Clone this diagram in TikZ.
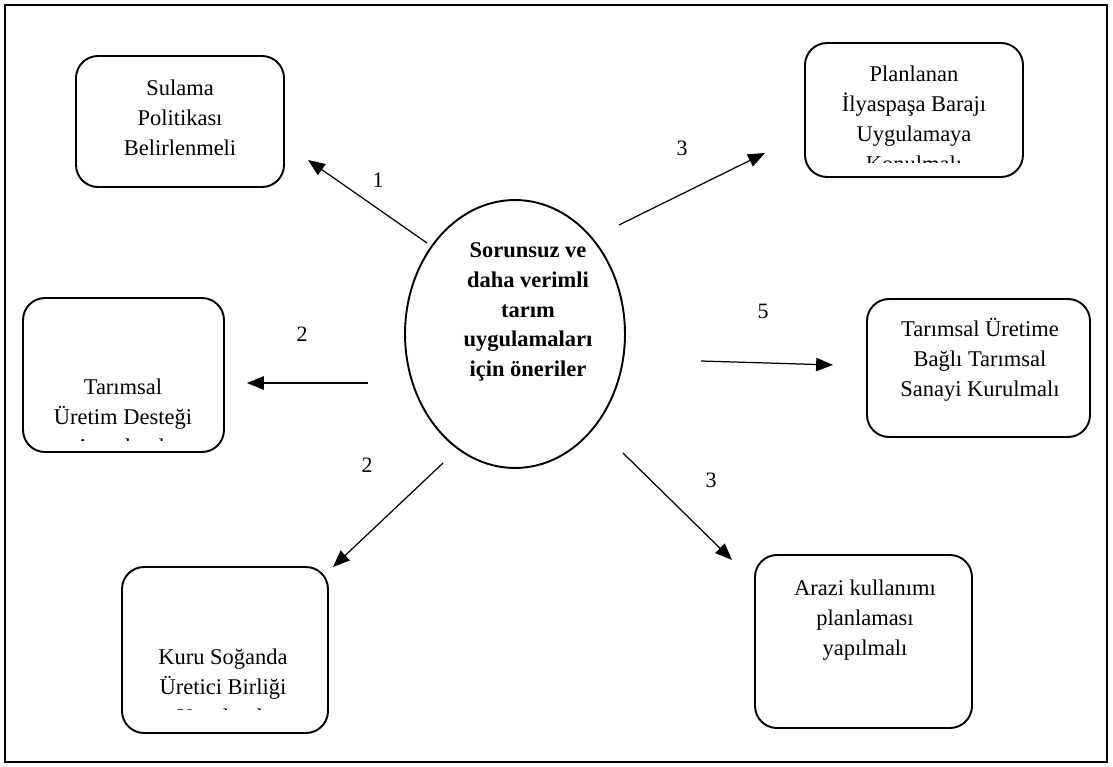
\documentclass[tikz,border=0pt]{standalone}
\usepackage{fontspec}
\setmainfont{Liberation Serif}
\usetikzlibrary{arrows.meta,shapes.geometric}

\begin{document}
\begin{tikzpicture}[x=0.02cm, y=-0.02cm]
    \tikzset{kutu/.style={rectangle, draw=black, line width=1.1pt, rounded corners=0.44cm}}
    \tikzset{yazi/.style={align=center, inner sep=0pt, font=\fontsize{12.8}{17}\selectfont}}
    \tikzset{ok/.style={-{Triangle[length=9.6pt, width=7.6pt]}, line width=0.7pt}}
    \tikzset{sayi/.style={inner sep=0pt, font=\fontsize{12.5}{14}\selectfont}}

    \useasboundingbox (0,0) rectangle (1113,767);
    \draw[line width=0.6pt] (5,5) rectangle (1107,762);

    % ── MERKEZ ──────────────────────────────────────────
    \node[ellipse, draw=black, line width=1.1pt, minimum width=4.4cm, minimum height=5.36cm] (oneri) at (515,334) {};
    \node[yazi, font=\fontsize{12.8}{17}\selectfont\bfseries] (oneriyazi) at (528,312)
        {Sorunsuz ve\\daha verimli\\tarım\\uygulamaları\\için öneriler};

    % ── KUTULAR ─────────────────────────────────────────
    \node[kutu, minimum width=4.16cm, minimum height=2.62cm] (sulama) at (180,121.5) {};
    \node[yazi] (sulamayazi) at (180,118) {Sulama\\Politikası\\Belirlenmeli};

    \node[kutu, minimum width=4.36cm, minimum height=2.68cm] (baraj) at (914,110) {};
    \begin{scope}
        \clip (805,43) rectangle (1023,163);
        \node[yazi] (barajyazi) at (914,119) {Planlanan\\İlyaspaşa Barajı\\Uygulamaya\\Konulmalı};
    \end{scope}

    \node[kutu, minimum width=4.02cm, minimum height=3.08cm] (destek) at (123.5,375) {};
    \begin{scope}
        \clip (23,298) rectangle (224,440);
        \node[yazi] (destekyazi) at (123,417) {Tarımsal\\Üretim Desteği\\Artırılmalı};
    \end{scope}

    \node[kutu, minimum width=4.46cm, minimum height=2.76cm] (sanayi) at (978.5,368) {};
    \node[yazi] (sanayiyazi) at (980,360) {Tarımsal Üretime\\Bağlı Tarımsal\\Sanayi Kurulmalı};

    \node[kutu, minimum width=4.12cm, minimum height=3.32cm] (birlik) at (225,650) {};
    \begin{scope}
        \clip (122,567) rectangle (328,709);
        \node[yazi] (birlikyazi) at (223,687) {Kuru Soğanda\\Üretici Birliği\\Kurulmalı};
    \end{scope}

    \node[kutu, minimum width=4.34cm, minimum height=3.46cm] (arazi) at (863.5,641.5) {};
    \node[yazi] (araziyazi) at (865,620) {Arazi kullanımı\\planlaması\\yapılmalı};

    % ── OKLAR ───────────────────────────────────────────
    \coordinate (s1) at (427,243);  \coordinate (e1) at (308,160);
    \coordinate (s2) at (619,225);  \coordinate (e2) at (765,153);
    \coordinate (s3) at (368,383);  \coordinate (e3) at (247,383);
    \coordinate (s4) at (701,361);  \coordinate (e4) at (833,365);
    \coordinate (s5) at (443,463);  \coordinate (e5) at (333,567);
    \coordinate (s6) at (623,453);  \coordinate (e6) at (732,560);

    \foreach \i in {1,...,6} {
        \draw[ok] (s\i) -- (e\i);
    }

    % numaralar
    \node[sayi] (n1) at (378,180) {1};
    \node[sayi] (n2) at (682,148) {3};
    \node[sayi] (n3) at (302,334) {2};
    \node[sayi] (n4) at (763,311) {5};
    \node[sayi] (n5) at (367,465) {2};
    \node[sayi] (n6) at (711,480) {3};

\end{tikzpicture}
\end{document}
